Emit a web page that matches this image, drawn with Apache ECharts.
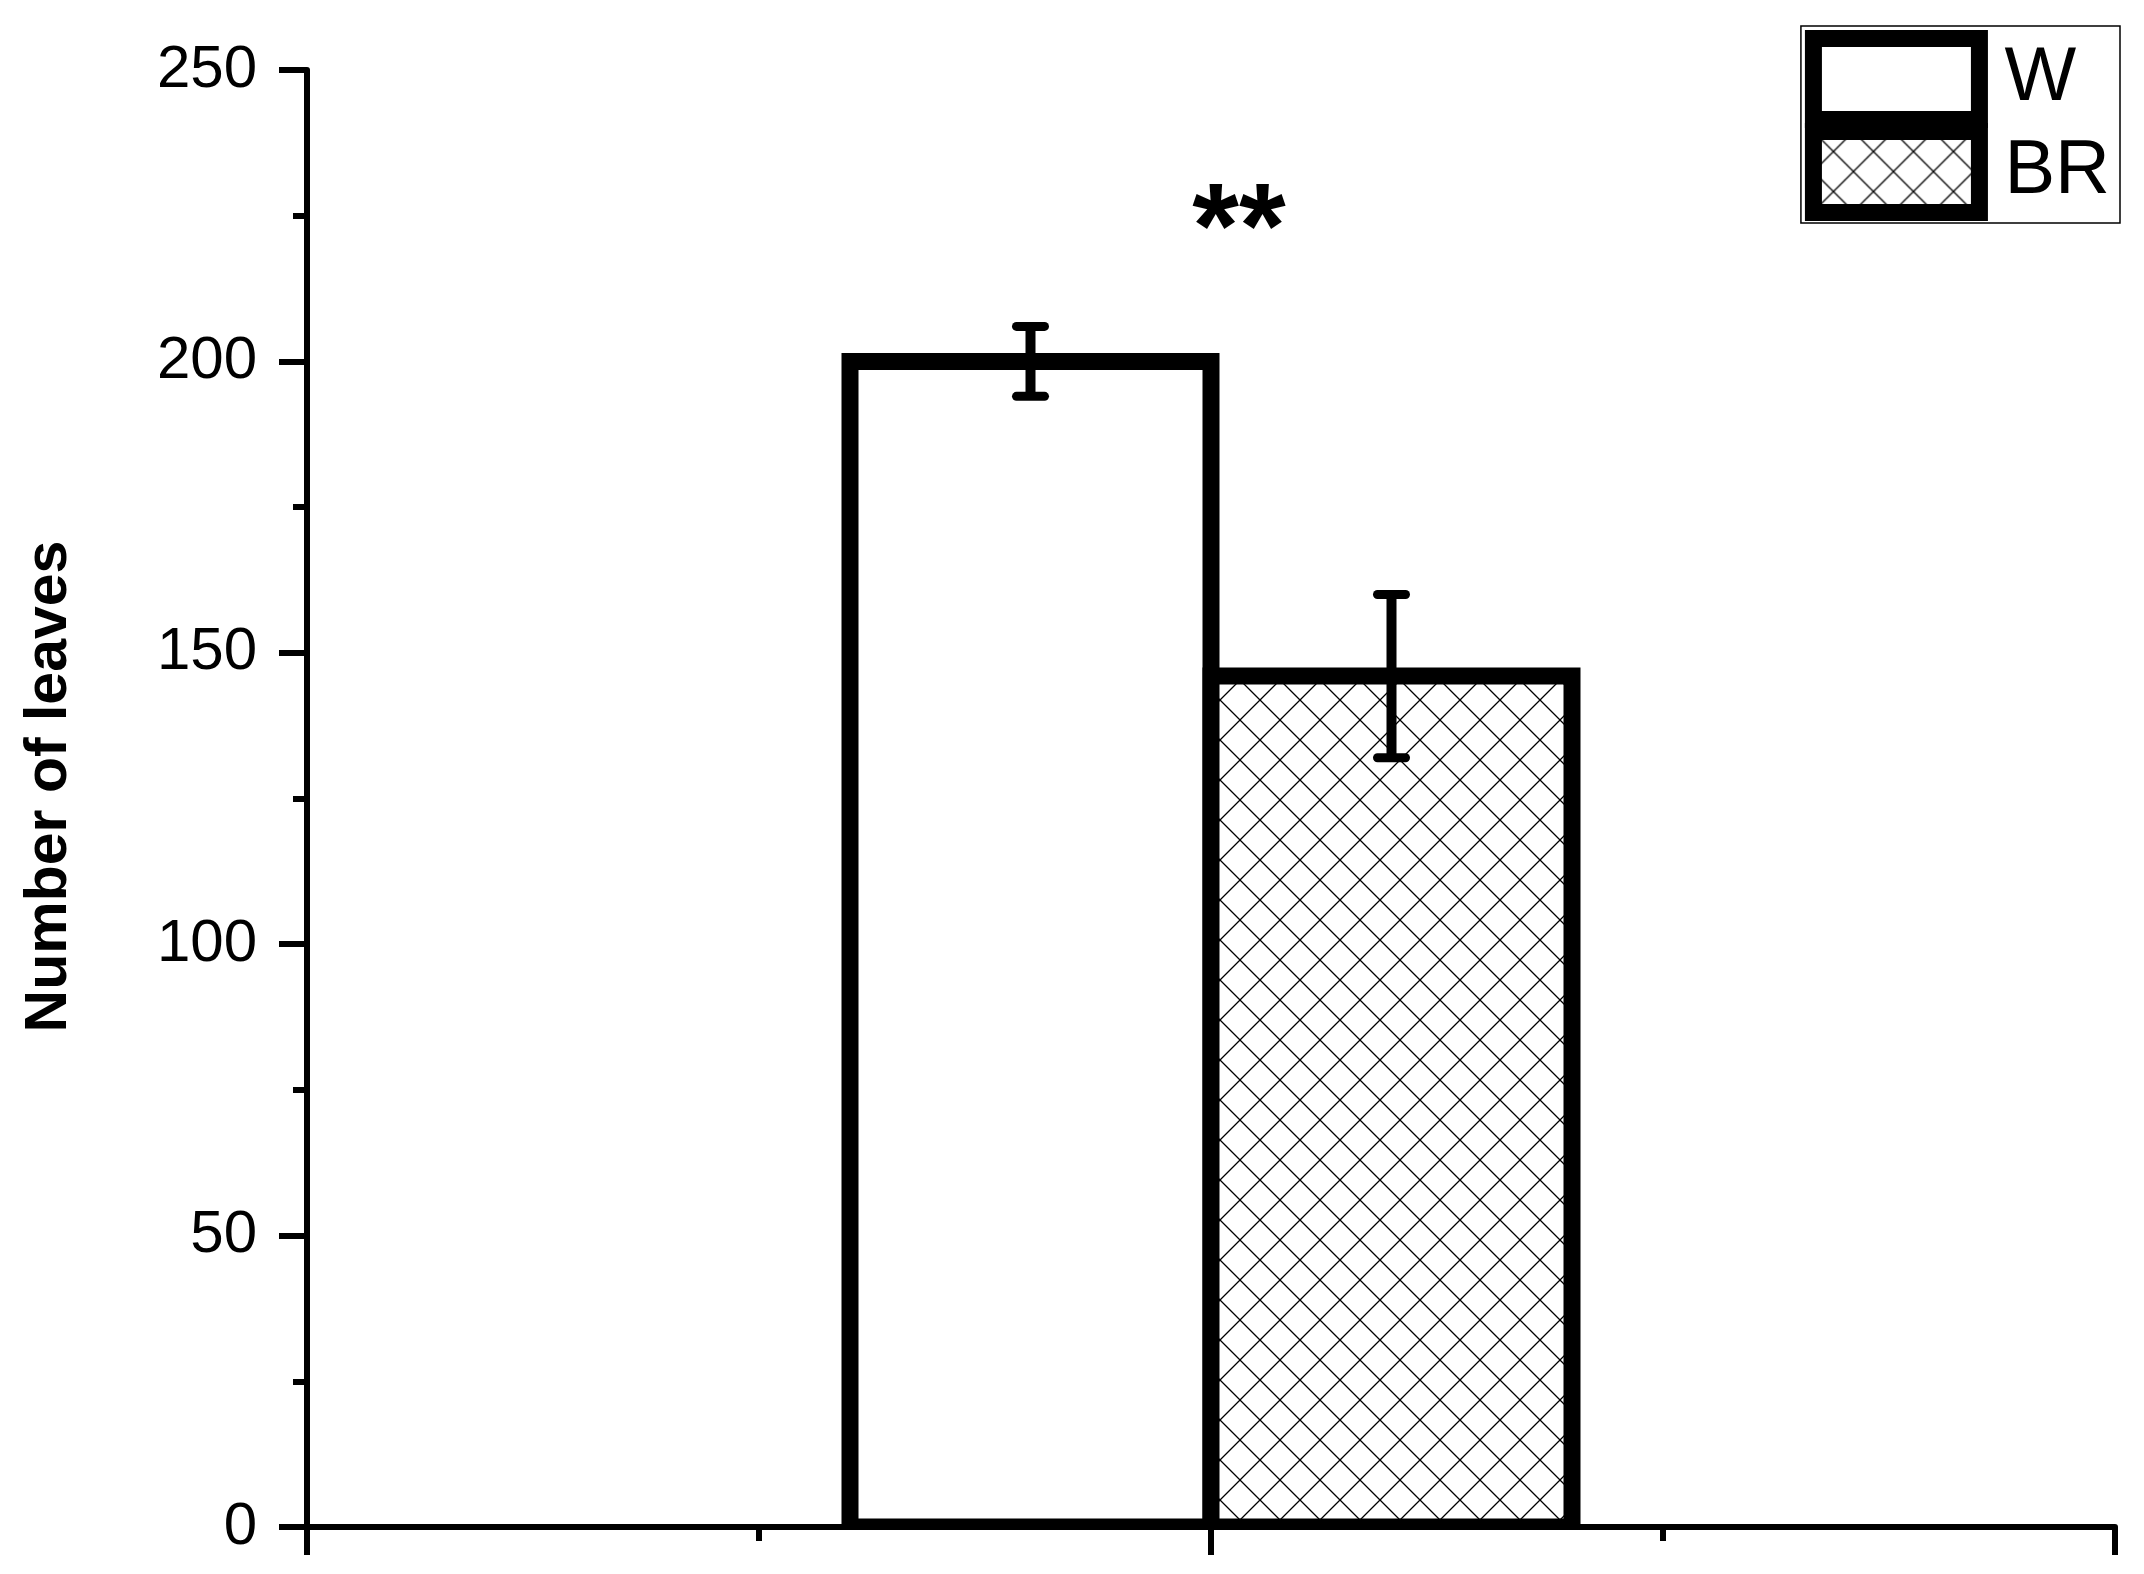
<!DOCTYPE html>
<html>
<head>
<meta charset="utf-8">
<title>Number of leaves</title>
<script src="https://cdn.jsdelivr.net/npm/echarts@6/dist/echarts.min.js"></script>
<style>
  html, body { margin: 0; padding: 0; background: #fff; }
  #chart { width: 2144px; height: 1574px; }
</style>
</head>
<body>
<div id="chart"></div>
<script>
  // data
  const categories = ['Sample'];
  const seriesNames = ['W', 'BR'];
  const wValues = [200];
  const brValues = [146];
  const wErr = [6];
  const brErr = [14];
  const yMin = 0;
  const yMax = 250;
  const yInterval = 50;
  const significance = '**';

  const FONT = 'Liberation Sans, Arial, sans-serif';
  const BAR_WIDTH = 361;
  const BORDER = 17;

  // cross hatch pattern for BR
  function makeHatch() {
    const c = document.createElement('canvas');
    c.width = 40;
    c.height = 40;
    const ctx = c.getContext('2d');
    ctx.fillStyle = '#fff';
    ctx.fillRect(0, 0, 40, 40);
    ctx.strokeStyle = '#000';
    ctx.lineWidth = 1.3;
    ctx.beginPath();
    ctx.moveTo(-5, -5); ctx.lineTo(45, 45);
    ctx.moveTo(45, -5); ctx.lineTo(-5, 45);
    ctx.stroke();
    return c;
  }
  const hatchFill = { image: makeHatch(), repeat: 'repeat' };

  // bars drawn with the outline centred on the value (like the original plot)
  function barRenderer(fill, side) {
    return function (params, api) {
      const cat = api.value(0);
      const top = api.coord([cat, api.value(1)]);
      const base = api.coord([cat, 0]);
      const x0 = side < 0 ? top[0] - BAR_WIDTH : top[0];
      return {
        type: 'rect',
        shape: { x: x0, y: top[1], width: BAR_WIDTH, height: base[1] - top[1] },
        style: { fill: fill, stroke: '#000', lineWidth: BORDER, lineJoin: 'miter' }
      };
    };
  }

  // error bar items: [category index, mean, err, side]
  const errData = [];
  categories.forEach((c, i) => {
    errData.push([i, wValues[i], wErr[i], -1]);
    errData.push([i, brValues[i], brErr[i], 1]);
  });

  const chart = echarts.init(document.getElementById('chart'));

  chart.setOption({
    animation: false,
    backgroundColor: '#fff',
    grid: { left: 307, right: 29, top: 70, bottom: 47 },
    legend: {
      data: seriesNames,
      orient: 'vertical',
      right: 24,
      top: 26,
      padding: [4, 10, 2, 4],
      itemGap: -5,
      itemWidth: 166,
      itemHeight: 81,
      icon: 'rect',
      selectedMode: false,
      borderColor: '#000',
      borderWidth: 1.5,
      itemStyle: { borderWidth: BORDER, borderColor: '#000' },
      textStyle: { fontSize: 76, fontFamily: FONT, color: '#000', padding: [0, 0, 0, 20] }
    },
    xAxis: [
      {
        type: 'category',
        data: categories,
        axisLine: { lineStyle: { color: '#000', width: 6 } },
        axisTick: { show: false },
        axisLabel: { show: false },
        splitLine: { show: false }
      },
      {
        type: 'value',
        position: 'bottom',
        min: 0,
        max: 4,
        interval: 2,
        axisLine: { show: false },
        axisTick: { show: true, length: 28, lineStyle: { color: '#000', width: 6 } },
        minorTick: { show: true, splitNumber: 2, length: 14, lineStyle: { color: '#000', width: 6 } },
        axisLabel: { show: false },
        splitLine: { show: false }
      }
    ],
    yAxis: {
      type: 'value',
      min: yMin,
      max: yMax,
      interval: yInterval,
      name: 'Number of leaves',
      nameLocation: 'middle',
      nameGap: 228,
      nameTextStyle: { fontSize: 59, fontWeight: 'bold', fontFamily: FONT, color: '#000', padding: [0, 0, 0, 24] },
      axisLine: { show: true, lineStyle: { color: '#000', width: 6 } },
      axisTick: { show: true, length: 28, lineStyle: { color: '#000', width: 6 } },
      minorTick: { show: true, splitNumber: 2, length: 14, lineStyle: { color: '#000', width: 6 } },
      axisLabel: { fontSize: 60, fontFamily: FONT, color: '#000', margin: 50 },
      splitLine: { show: false }
    },
    series: [
      {
        name: 'W',
        type: 'custom',
        xAxisIndex: 0,
        clip: true,
        encode: { x: 0, y: 1 },
        data: wValues.map((v, i) => [i, v]),
        itemStyle: { color: '#fff' },
        renderItem: barRenderer('#fff', -1)
      },
      {
        name: 'BR',
        type: 'custom',
        xAxisIndex: 0,
        clip: true,
        encode: { x: 0, y: 1 },
        data: brValues.map((v, i) => [i, v]),
        itemStyle: { color: hatchFill },
        renderItem: barRenderer(hatchFill, 1)
      },
      {
        type: 'custom',
        xAxisIndex: 0,
        z: 5,
        data: errData,
        renderItem: function (params, api) {
          const cat = api.value(0);
          const mean = api.value(1);
          const err = api.value(2);
          const side = api.value(3);
          const x = api.coord([cat, mean])[0] + side * BAR_WIDTH / 2;
          const yTop = api.coord([cat, mean + err])[1];
          const yBot = api.coord([cat, mean - err])[1];
          const half = 14;
          const capStyle = { stroke: '#000', lineWidth: 9, lineCap: 'round' };
          return {
            type: 'group',
            children: [
              { type: 'line', shape: { x1: x, y1: yTop, x2: x, y2: yBot }, style: { stroke: '#000', lineWidth: 10 } },
              { type: 'line', shape: { x1: x - half, y1: yTop, x2: x + half, y2: yTop }, style: capStyle },
              { type: 'line', shape: { x1: x - half, y1: yBot, x2: x + half, y2: yBot }, style: capStyle }
            ]
          };
        }
      }
    ],
    graphic: [
      {
        type: 'text',
        x: 1239,
        y: 234,
        style: {
          text: significance,
          font: 'bold 120px ' + FONT,
          fill: '#000',
          align: 'center',
          verticalAlign: 'middle'
        }
      }
    ]
  });
</script>
</body>
</html>
